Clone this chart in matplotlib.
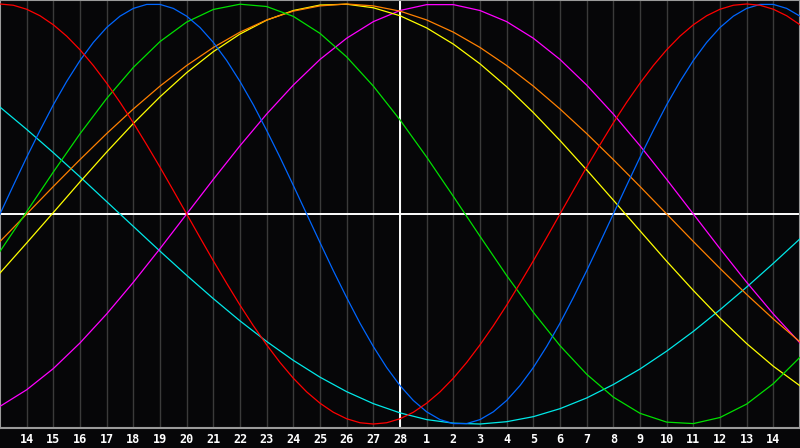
import matplotlib
matplotlib.use('Agg')
import matplotlib.pyplot as plt

# day index 0 = the 13th, 15 = the 28th (today), 30 = the 14th of next month
days = list(range(31))
half_days = [k / 2 for k in range(61)]
tick_days = list(range(1, 30))
tick_labels = ['14', '15', '16', '17', '18', '19', '20', '21', '22', '23', '24',
               '25', '26', '27', '28', '1', '2', '3', '4', '5', '6', '7', '8',
               '9', '10', '11', '12', '13', '14']
today = 15

# curve values (-1 .. 1); red and blue every half day
red = [1.000, 0.994, 0.975, 0.944, 0.901, 0.847, 0.782, 0.707, 0.623, 0.532,
       0.434, 0.330, 0.223, 0.112, 0.000, -0.112, -0.223, -0.330, -0.434, -0.532,
       -0.623, -0.707, -0.782, -0.847, -0.901, -0.944, -0.975, -0.994, -1.000,
       -0.994, -0.975, -0.944, -0.901, -0.847, -0.782, -0.707, -0.623, -0.532,
       -0.434, -0.330, -0.223, -0.112, 0.000, 0.112, 0.223, 0.330, 0.434, 0.532,
       0.623, 0.707, 0.782, 0.847, 0.901, 0.944, 0.975, 0.994, 1.000, 0.994,
       0.975, 0.944, 0.901]
blue = [0.000, 0.136, 0.270, 0.398, 0.520, 0.631, 0.731, 0.817, 0.888, 0.942,
        0.979, 0.998, 0.998, 0.979, 0.942, 0.888, 0.817, 0.731, 0.631, 0.520,
        0.398, 0.270, 0.136, 0.000, -0.136, -0.270, -0.398, -0.520, -0.631,
        -0.731, -0.817, -0.888, -0.942, -0.979, -0.998, -0.998, -0.979, -0.942,
        -0.888, -0.817, -0.731, -0.631, -0.520, -0.398, -0.270, -0.136, 0.000,
        0.136, 0.270, 0.398, 0.520, 0.631, 0.731, 0.817, 0.888, 0.942, 0.979,
        0.998, 0.998, 0.979, 0.942]
green = [-0.178, 0.011, 0.200, 0.382, 0.550, 0.698, 0.821, 0.914, 0.974, 0.999,
         0.988, 0.941, 0.860, 0.748, 0.609, 0.448, 0.271, 0.084, -0.106, -0.293,
         -0.468, -0.627, -0.763, -0.872, -0.949, -0.991, -0.998, -0.969, -0.905,
         -0.808, -0.682]
orange = [-0.131, 0.000, 0.131, 0.259, 0.383, 0.500, 0.609, 0.707, 0.793, 0.866,
          0.924, 0.966, 0.991, 1.000, 0.991, 0.966, 0.924, 0.866, 0.793, 0.707,
          0.609, 0.500, 0.383, 0.259, 0.131, 0.000, -0.131, -0.259, -0.383,
          -0.500, -0.609]
yellow = [-0.281, -0.138, 0.007, 0.153, 0.295, 0.431, 0.558, 0.673, 0.773, 0.857,
          0.923, 0.969, 0.995, 0.999, 0.982, 0.944, 0.886, 0.809, 0.715, 0.606,
          0.483, 0.350, 0.210, 0.066, -0.080, -0.225, -0.364, -0.496, -0.617,
          -0.725, -0.818]
magenta = [-0.916, -0.837, -0.736, -0.614, -0.476, -0.325, -0.165, 0.000, 0.165,
           0.325, 0.476, 0.614, 0.736, 0.837, 0.916, 0.969, 0.997, 0.997, 0.969,
           0.916, 0.837, 0.736, 0.614, 0.476, 0.325, 0.165, 0.000, -0.165,
           -0.325, -0.476, -0.614]
cyan = [0.509, 0.403, 0.292, 0.177, 0.059, -0.059, -0.177, -0.292, -0.403, -0.509,
        -0.607, -0.697, -0.777, -0.846, -0.903, -0.947, -0.979, -0.996, -1.000,
        -0.989, -0.965, -0.927, -0.876, -0.812, -0.738, -0.653, -0.559, -0.456,
        -0.348, -0.235, -0.118]

bg = '#060608'
fig = plt.figure(figsize=(8, 4.48), dpi=100, facecolor=bg)
ax = fig.add_axes([0, 20 / 448, 1, 428 / 448])
ax.set_facecolor(bg)

# day grid
for d in tick_days:
    ax.axvline(d, color='#3a3a3a', lw=1.0, zorder=1)
ax.axvline(today, color='white', lw=1.4, zorder=2)
ax.axhline(0, color='white', lw=1.4, zorder=2)

ax.plot(days, cyan, color='#00e8e8', lw=0.9, zorder=3)
ax.plot(days, magenta, color='#ff00ff', lw=0.9, zorder=3)
ax.plot(days, yellow, color='#ffff00', lw=0.9, zorder=3)
ax.plot(days, orange, color='#ff8000', lw=0.9, zorder=3)
ax.plot(days, green, color='#00e000', lw=0.9, zorder=3)
ax.plot(half_days, blue, color='#0066ff', lw=0.9, zorder=3)
ax.plot(half_days, red, color='#ff0000', lw=0.9, zorder=3)

ax.set_xlim(0, 30)
ax.set_ylim(-1.019, 1.019)
ax.set_yticks([])
ax.set_xticks(tick_days)
ax.set_xticklabels(tick_labels, color='white', fontsize=8.5,
                   fontweight='bold', family='DejaVu Sans Mono')
ax.tick_params(axis='x', length=0, pad=3.5)

for spine in ('top', 'right', 'bottom', 'left'):
    ax.spines[spine].set_color('#9a9a9a')
    ax.spines[spine].set_linewidth(1.5)

fig.savefig('out.png', dpi=100, facecolor=bg)
